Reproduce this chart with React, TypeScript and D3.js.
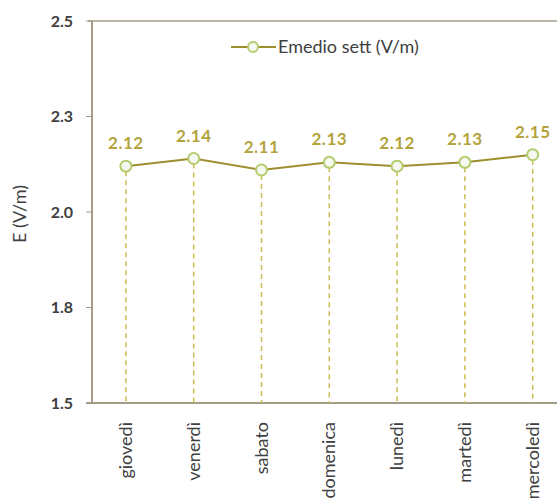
import React from "react";
import * as d3 from "d3";

const days = ["giovedì", "venerdì", "sabato", "domenica", "lunedì", "martedì", "mercoledì"];
const values = [2.12, 2.14, 2.11, 2.13, 2.12, 2.13, 2.15];
const yTicks = [1.5, 1.75, 2.0, 2.25, 2.5];
const seriesName = "Emedio sett (V/m)";
const yTitle = "E (V/m)";

const W = 557;
const H = 500;
const left = 92;
const top = 21;
const bottom = 403;
const band = 67.8;
const font = "Lato, 'Open Sans', sans-serif";

export default function App() {
  const x = d3.scaleBand<string>().domain(days).range([left, left + band * days.length]).padding(0);
  const y = d3.scaleLinear().domain([1.5, 2.5]).range([bottom, top]);
  const cx = (d: string) => (x(d) as number) + x.bandwidth() / 2;
  const line = d3
    .line<number>()
    .x((_, i) => cx(days[i]))
    .y((v) => y(v));

  const axisColor = "#a39c86";
  const lineColor = "#9e8e2e";
  const markerColor = "#b3cc6e";
  const dropColor = "#c9bd4e";
  const labelColor = "#b3a33c";
  const textColor = "#404040";

  return (
    <svg width={W} height={H} style={{ position: "absolute", left: 0, top: 0, background: "#fff" }}>
      {/* top border */}
      <line x1={left - 4} x2={W} y1={y(2.5)} y2={y(2.5)} stroke={axisColor} strokeWidth={1.5} />
      {/* y axis */}
      <line x1={left} x2={left} y1={y(2.5)} y2={y(1.5)} stroke={axisColor} strokeWidth={2} />
      {/* x axis */}
      <line x1={left - 6} x2={W} y1={y(1.5)} y2={y(1.5)} stroke={axisColor} strokeWidth={2} />
      {yTicks.map((t) => (
        <g key={t}>
          <line x1={left - 6} x2={left} y1={y(t)} y2={y(t)} stroke={axisColor} strokeWidth={1} />
          <text
            x={left - 19}
            y={y(t)}
            dy="0.35em"
            textAnchor="end"
            fontFamily={font}
            fontSize={16}
            fontWeight="bold"
            fill={textColor}
          >
            {t.toFixed(1)}
          </text>
        </g>
      ))}
      <text
        transform={`translate(20,${214}) rotate(-90)`}
        textAnchor="middle"
        dy="0.35em"
        fontFamily={font}
        fontSize={18}
        fill={textColor}
      >
        {yTitle}
      </text>
      {/* drop lines */}
      {values.map((v, i) => (
        <line
          key={"d" + i}
          x1={cx(days[i])}
          x2={cx(days[i])}
          y1={y(v) + 5}
          y2={y(1.5)}
          stroke={dropColor}
          strokeWidth={1.5}
          strokeDasharray="5,4"
        />
      ))}
      <path d={line(values) || ""} fill="none" stroke={lineColor} strokeWidth={2} />
      {values.map((v, i) => (
        <circle
          key={"c" + i}
          cx={cx(days[i])}
          cy={y(v)}
          r={5.5}
          fill="#f8f8f2"
          stroke={markerColor}
          strokeWidth={2}
        />
      ))}
      {values.map((v, i) => (
        <text
          key={"l" + i}
          x={cx(days[i])}
          y={y(v) - 17}
          textAnchor="middle"
          fontFamily={font}
          fontSize={17}
          fontWeight="bold"
          letterSpacing={0.5}
          fill={labelColor}
        >
          {v.toFixed(2)}
        </text>
      ))}
      {days.map((d) => (
        <text
          key={d}
          transform={`translate(${cx(d) + 6},${y(1.5) + 19}) rotate(-90)`}
          textAnchor="end"
          fontFamily={font}
          fontSize={18}
          fill={textColor}
        >
          {d}
        </text>
      ))}
      {/* legend */}
      <line x1={231} x2={276} y1={47} y2={47} stroke={lineColor} strokeWidth={2} />
      <circle cx={253} cy={47} r={5} fill="#f8f8f2" stroke={markerColor} strokeWidth={2} />
      <text x={278} y={47} dy="0.35em" fontFamily={font} fontSize={18} fill={textColor}>
        {seriesName}
      </text>
    </svg>
  );
}
